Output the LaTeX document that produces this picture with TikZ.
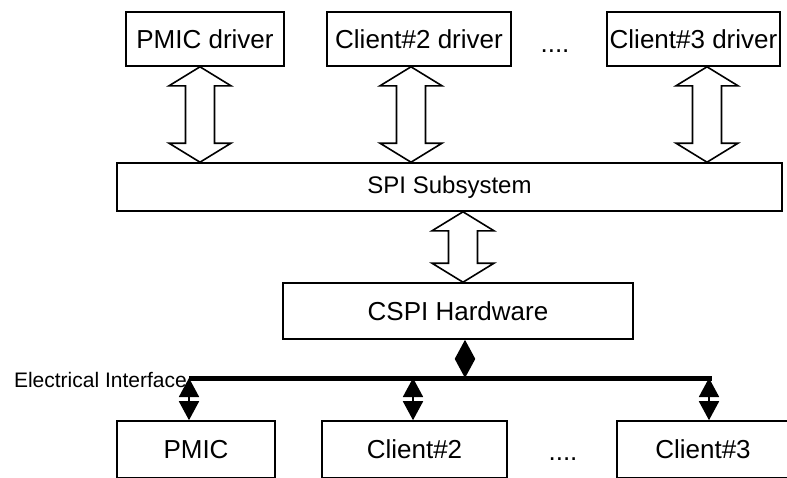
\documentclass[tikz,border=0pt]{standalone}
\usepackage{fontspec}
\setmainfont{Liberation Sans}
\usetikzlibrary{calc,arrows.meta}

\tikzset{
  box/.style={draw, line width=1.6pt, inner sep=0pt, font=\fontsize{26}{30}\selectfont},
  hollow/.style={draw, line width=1.6pt, fill=white, line join=miter},
  wire/.style={line width=1.8pt, {Triangle[width=20pt,length=19pt]}-{Triangle[width=20pt,length=19pt]}},
  bus/.style={line width=5pt},
}

% wide open double arrow at x=#1 between two boxes
\newcommand{\hollowarrow}[3]{%
  \draw[hollow] (#1,0 |- #2.south) -- ++(31,19) -- ++(-16.5,0)
    -- ($(#1,0 |- #3.north)+(14.5,-19)$) -- ++(16.5,0) -- (#1,0 |- #3.north)
    -- ++(-31,-19) -- ++(16.5,0) -- ($(#1,0 |- #2.south)+(-14.5,19)$)
    -- ++(-16.5,0) -- cycle;}

\begin{document}
\begin{tikzpicture}[x=1pt,y=-1pt]
  \useasboundingbox (0,0) rectangle (787,477);

  % drivers
  \node[box, minimum width=158pt, minimum height=54pt] (pmicdrv) at (205,39) {PMIC driver};
  \node[box, minimum width=184pt, minimum height=54pt] (cl2drv) at (419,39) {Client\#2 driver};
  \node[box, minimum width=173pt, minimum height=54pt] (cl3drv) at (693.5,39) {Client\#3 driver};
  \node[anchor=base, font=\fontsize{26}{30}\selectfont] (dotsup) at (555,52) {....};

  \node[box, minimum width=665pt, minimum height=48pt, font=\fontsize{24}{28}\selectfont] (spi) at (449.5,187) {SPI Subsystem};
  \node[box, minimum width=350pt, minimum height=56pt] (cspi) at (458,311) {CSPI Hardware};

  % devices
  \node[box, minimum width=158pt, minimum height=57pt] (pmic) at (196,449.5) {PMIC};
  \node[box, minimum width=185pt, minimum height=57pt] (cl2) at (414.5,449.5) {Client\#2};
  \node[box, minimum width=172pt, minimum height=57pt] (cl3) at (703,449.5) {Client\#3};
  \node[anchor=base, font=\fontsize{26}{30}\selectfont] (dotsdown) at (563,460) {....};

  \hollowarrow{200}{pmicdrv}{spi}
  \hollowarrow{411}{cl2drv}{spi}
  \hollowarrow{707}{cl3drv}{spi}
  \hollowarrow{463}{spi}{cspi}

  % electrical interface
  \node[anchor=base east, inner sep=0pt, font=\fontsize{21}{24}\selectfont] (eif) at (187,387) {Electrical Interface};
  \coordinate (busl) at (189,378);
  \coordinate (busr) at (712,378);
  \draw[bus] (busl) -- (busr);

  \draw[wire] (465,0 |- cspi.south) -- (465,0 |- busl);
  \draw[wire] (189,0 |- busl) -- (189,0 |- pmic.north);
  \draw[wire] (413,0 |- busl) -- (413,0 |- cl2.north);
  \draw[wire] (709,0 |- busl) -- (709,0 |- cl3.north);
\end{tikzpicture}
\end{document}
